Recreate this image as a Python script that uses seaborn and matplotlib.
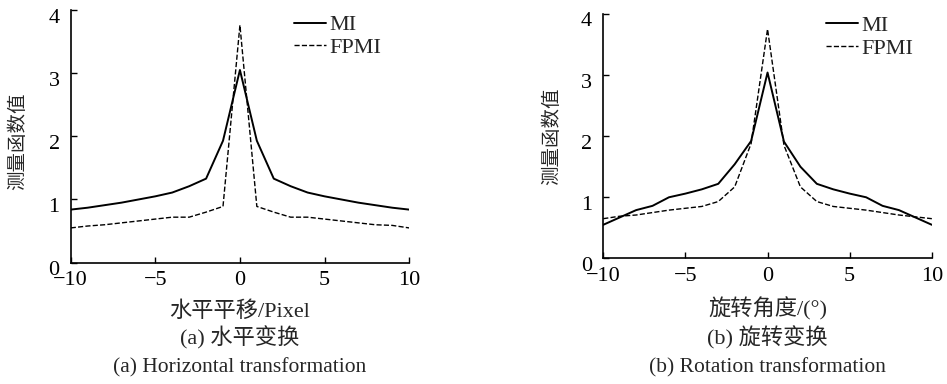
import numpy as np
import pandas as pd
import matplotlib
matplotlib.use("Agg")
import matplotlib.pyplot as plt
import matplotlib.transforms as mtrans
import seaborn as sns

# Data
x_shift = [-10, -9, -8, -7, -6, -5, -4, -3, -2, -1, 0, 1, 2, 3, 4, 5, 6, 7, 8, 9, 10]
mi_shift = [0.84, 0.87, 0.91, 0.95, 1.00, 1.05, 1.11, 1.21, 1.33, 1.93, 3.05,
            1.93, 1.33, 1.21, 1.11, 1.05, 1.00, 0.95, 0.91, 0.87, 0.84]
fpmi_shift = [0.55, 0.58, 0.60, 0.63, 0.66, 0.69, 0.72, 0.72, 0.80, 0.89, 3.76,
              0.89, 0.80, 0.72, 0.72, 0.69, 0.66, 0.63, 0.60, 0.59, 0.55]

x_rot = [-10, -9, -8, -7, -6, -5, -4, -3, -2, -1, 0, 1, 2, 3, 4, 5, 6, 7, 8, 9, 10]
mi_rot = [0.55, 0.67, 0.79, 0.86, 1.00, 1.06, 1.13, 1.22, 1.54, 1.92, 3.04,
          1.91, 1.50, 1.22, 1.13, 1.06, 1.00, 0.86, 0.79, 0.67, 0.55]
fpmi_rot = [0.65, 0.69, 0.71, 0.75, 0.79, 0.82, 0.85, 0.93, 1.17, 1.88, 3.75,
            1.85, 1.17, 0.93, 0.85, 0.82, 0.79, 0.75, 0.71, 0.68, 0.65]

sns.set_style("ticks")
plt.rcParams["font.family"] = ["Liberation Serif", "Noto Sans CJK SC"]
plt.rcParams["axes.unicode_minus"] = True

fig = plt.figure(figsize=(9.47, 3.84), dpi=100)
ax1 = fig.add_axes([0.0747, 0.316, 0.3573, 0.658])
ax2 = fig.add_axes([0.637, 0.327, 0.347, 0.637])

panels = [
    (ax1, x_shift, mi_shift, fpmi_shift, "水平平移/Pixel", "(a) 水平变换",
     "(a) Horizontal transformation", (0.944, 1.016), 0.48),
    (ax2, x_rot, mi_rot, fpmi_rot, "旋转角度/(°)", "(b) 旋转变换",
     "(b) Rotation transformation", (0.971, 1.029), 0.5),
]

# nudge y tick labels slightly down like the reference
offset = mtrans.ScaledTranslation(0, -4 / 72, fig.dpi_scale_trans)

for ax, x, mi, fpmi, xlab, cap_cn, cap_en, leg_pos, ylab_y in panels:
    sns.lineplot(x=x, y=mi, ax=ax, color="black", linewidth=1.4, label="MI")
    sns.lineplot(x=x, y=fpmi, ax=ax, color="black", linewidth=1.0, linestyle="--", label="FPMI")
    ax.set_xlim(-10, 10)
    ax.set_ylim(0, 4)
    ax.set_xticks([-10, -5, 0, 5, 10])
    ax.set_yticks([0, 1, 2, 3, 4])
    sns.despine(ax=ax)
    ax.tick_params(direction="in", length=4, width=1, labelsize=16, colors="black")
    ax.tick_params(axis="x", pad=6)
    ax.tick_params(axis="y", pad=8)
    for lab in ax.get_yticklabels():
        lab.set_transform(lab.get_transform() + offset)
    for s in ["left", "bottom"]:
        ax.spines[s].set_color("black")
        ax.spines[s].set_linewidth(1.2)
    ax.set_ylabel("测量函数值", fontsize=14)
    ax.yaxis.set_label_coords(-0.128, ylab_y)
    ax.set_xlabel(xlab, fontsize=16, labelpad=8)
    cx = ax.get_position().x0 + ax.get_position().width / 2
    fig.text(cx, 1 - 338 / 384, cap_cn, ha="center", va="center", fontsize=16)
    fig.text(cx, 1 - 368 / 384, cap_en, ha="center", va="center", fontsize=15.5)
    ax.legend(loc="upper right", frameon=False, fontsize=16, handlelength=1.45,
              handletextpad=0.15, labelspacing=0.1, borderaxespad=0.0,
              bbox_to_anchor=leg_pos)

fig.savefig("out.png", dpi=100)
